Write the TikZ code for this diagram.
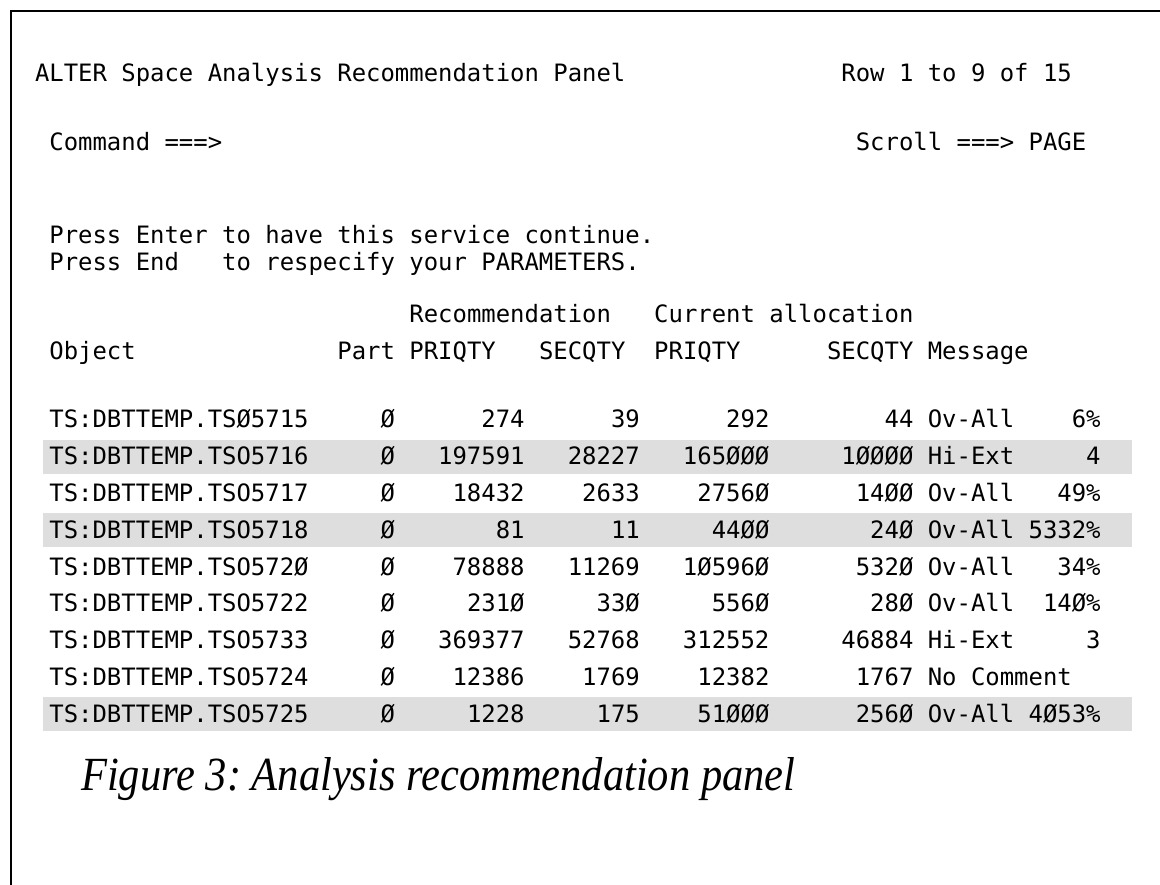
\documentclass[tikz,border=0pt]{standalone}
\usepackage{fontspec}
\usepackage{graphicx}
\newfontfamily\scrfont{DejaVu Sans Mono}
\newfontfamily\capfont{Liberation Serif}
\definecolor{bandgray}{RGB}{222,222,222}
\newcommand{\colx}[1]{35+14.4*#1}
\frenchspacing
\begin{document}
\begin{tikzpicture}[x=1pt,y=-1pt,
  txt/.style={inner sep=0pt, outer sep=0pt, font=\scrfont\fontsize{23.92}{24}\selectfont, anchor=base west},
  num/.style={txt, anchor=base east},
  band/.style={fill=bandgray, draw=none},
  frame/.style={line width=2.7pt, line cap=rect}]
\useasboundingbox (0,0) rectangle (1160,885);
% frame (top and left edges)
\coordinate (fTR) at (1170,11);
\coordinate (fTL) at (11,11);
\coordinate (fBL) at (11,895);
\draw[frame] (fTR) -- (fTL) -- (fBL);
% grey bands
\foreach \r in {2,4,9}{
  \pgfmathsetmacro{\yb}{428+36.75*(\r-1)}
  \fill[band] (43,\yb-25) rectangle (1132,\yb+9);
}
% header lines
\node[txt] (title) at ({\colx{0}},82) {ALTER Space Analysis Recommendation Panel};
\node[txt] (rows) at ({\colx{56}},82) {Row 1 to 9 of 15};
\node[txt] (cmd) at ({\colx{1}},151) {Command ===>};
\node[txt] (scroll) at ({\colx{57}},151) {Scroll ===> PAGE};
\node[txt] (press1) at ({\colx{1}},244) {Press Enter to have this service continue.};
\node[txt] (press2) at ({\colx{1}},271) {Press End\ \ \ to respecify your PARAMETERS.};
% column headers
\node[txt] (hrec) at ({\colx{26}},323) {Recommendation};
\node[txt] (hcur) at ({\colx{43}},323) {Current allocation};
\node[txt] (hobj) at ({\colx{1}},360) {Object};
\node[txt] (hpart) at ({\colx{21}},360) {Part};
\node[txt] (hrp) at ({\colx{26}},360) {PRIQTY};
\node[txt] (hrs) at ({\colx{35}},360) {SECQTY};
\node[txt] (hcp) at ({\colx{43}},360) {PRIQTY};
\node[txt] (hcs) at ({\colx{55}},360) {SECQTY};
\node[txt] (hmsg) at ({\colx{62}},360) {Message};
% data rows
\foreach \i/\nm/\a/\b/\c/\d/\m/\p in {
  1/TS:DBTTEMP.TSØ5715/274/39/292/44/Ov-All/6\%,
  2/TS:DBTTEMP.TSO5716/197591/28227/165ØØØ/1ØØØØ/Hi-Ext/4,
  3/TS:DBTTEMP.TSO5717/18432/2633/2756Ø/14ØØ/Ov-All/49\%,
  4/TS:DBTTEMP.TSO5718/81/11/44ØØ/24Ø/Ov-All/5332\%,
  5/TS:DBTTEMP.TSO572Ø/78888/11269/1Ø596Ø/532Ø/Ov-All/34\%,
  6/TS:DBTTEMP.TSO5722/231Ø/33Ø/556Ø/28Ø/Ov-All/14Ø\%,
  7/TS:DBTTEMP.TSO5733/369377/52768/312552/46884/Hi-Ext/3,
  8/TS:DBTTEMP.TSO5724/12386/1769/12382/1767/No Comment/{},
  9/TS:DBTTEMP.TSO5725/1228/175/51ØØØ/256Ø/Ov-All/4Ø53\%}{
  \pgfmathsetmacro{\yb}{428+36.75*(\i-1)}
  \node[txt] (obj\i) at ({\colx{1}},\yb) {\nm};
  \node[txt] (part\i) at ({\colx{24}},\yb) {Ø};
  \node[num] (rp\i) at ({\colx{34}},\yb) {\a};
  \node[num] (rs\i) at ({\colx{42}},\yb) {\b};
  \node[num] (cp\i) at ({\colx{51}},\yb) {\c};
  \node[num] (cs\i) at ({\colx{61}},\yb) {\d};
  \node[txt] (msg\i) at ({\colx{62}},\yb) {\m};
  \node[num] (pct\i) at ({\colx{74}},\yb) {\p};
}
% caption
\node[anchor=base west, inner sep=0pt] (caption) at (81,790)
  {\resizebox{714pt}{33pt}{\capfont\itshape Figure 3: Analysis recommendation panel}};
\end{tikzpicture}
\end{document}
